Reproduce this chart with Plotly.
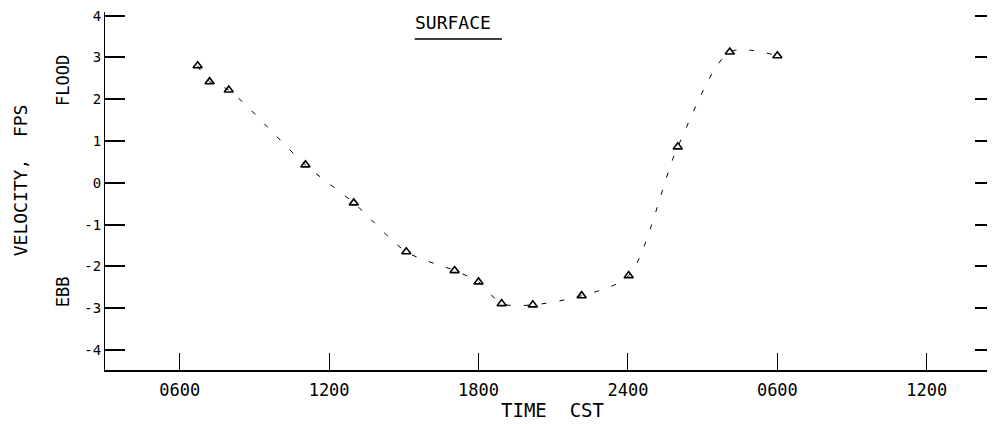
import plotly.graph_objects as go

# Time in hours from midnight of day 1 (24 = 2400, 30 = 0600 next day)
time_hours = [6.72, 7.2, 7.97, 11.05, 12.99, 15.1, 17.04, 18.0, 18.93, 20.18, 22.14, 24.03, 26.0, 28.09, 30.0]
velocity_fps = [2.80, 2.42, 2.22, 0.43, -0.48, -1.65, -2.10, -2.37, -2.89, -2.92, -2.70, -2.22, 0.86, 3.13, 3.04]

x_tick_vals = [6, 12, 18, 24, 30, 36]
x_tick_text = ["0600", "1200", "1800", "2400", "0600", "1200"]
y_tick_vals = [-4, -3, -2, -1, 0, 1, 2, 3, 4]
y_tick_text = ["-4", "-3", "-2", "-1", "0", "1", "2", "3", "4"]

FONT = "DejaVu Sans Mono"

fig = go.Figure()
fig.add_trace(go.Scatter(
    x=time_hours, y=velocity_fps, mode="lines",
    line=dict(color="black", width=1, dash="5px,13px", shape="spline", smoothing=0.8),
    hoverinfo="skip", showlegend=False,
))
fig.add_trace(go.Scatter(
    x=time_hours, y=velocity_fps, mode="markers",
    marker=dict(symbol="triangle-up-open", size=8, color="black", line=dict(width=1.6, color="black")),
    showlegend=False,
))

# page has an 8px body margin: figure is 987x416 so the plot area sits at x 105-995, y 12-370
fig.update_layout(
    width=987, height=416,
    margin=dict(l=97, r=0, t=4, b=54),
    paper_bgcolor="white", plot_bgcolor="white",
    font=dict(family=FONT, color="black", size=14),
    xaxis=dict(
        range=[3.0, 38.74], tickvals=x_tick_vals, ticktext=x_tick_text,
        ticks="inside", ticklen=17, tickwidth=1, tickcolor="black",
        showline=True, linecolor="black", linewidth=2,
        showgrid=False, zeroline=False, ticklabelstandoff=4,
        tickfont=dict(family=FONT, size=17),
    ),
    yaxis=dict(
        range=[-4.478, 4.087], tickvals=y_tick_vals, ticktext=y_tick_text,
        ticks="inside", ticklen=20, tickwidth=1.5, tickcolor="black",
        showline=True, linecolor="black", linewidth=1, mirror="ticks",
        showgrid=False, zeroline=False, ticklabeloverflow="allow",
        tickfont=dict(family=FONT, size=14),
    ),
    annotations=[
        dict(text="SURFACE", xref="paper", yref="paper", x=0.391, y=0.972,
             xanchor="center", yanchor="middle",
             showarrow=False, font=dict(family=FONT, size=18)),
        dict(text="TIME  CST", xref="paper", yref="paper", x=0.503, y=-0.112,
             xanchor="center", yanchor="middle",
             showarrow=False, font=dict(family=FONT, size=19)),
        dict(text="VELOCITY,  FPS", xref="paper", yref="paper", x=-0.0955, y=0.53,
             xanchor="center", yanchor="middle",
             textangle=-90, showarrow=False, font=dict(family=FONT, size=18)),
        dict(text="FLOOD", xref="paper", yref="paper", x=-0.0472, y=0.81,
             xanchor="center", yanchor="middle",
             textangle=-90, showarrow=False, font=dict(family=FONT, size=17)),
        dict(text="EBB", xref="paper", yref="paper", x=-0.0472, y=0.22,
             xanchor="center", yanchor="middle",
             textangle=-90, showarrow=False, font=dict(family=FONT, size=17)),
    ],
    shapes=[
        dict(type="line", xref="paper", yref="paper", x0=0.348, x1=0.446,
             y0=0.9246, y1=0.9246, line=dict(color="black", width=1.5)),
    ],
)

fig.write_html("out.html")
